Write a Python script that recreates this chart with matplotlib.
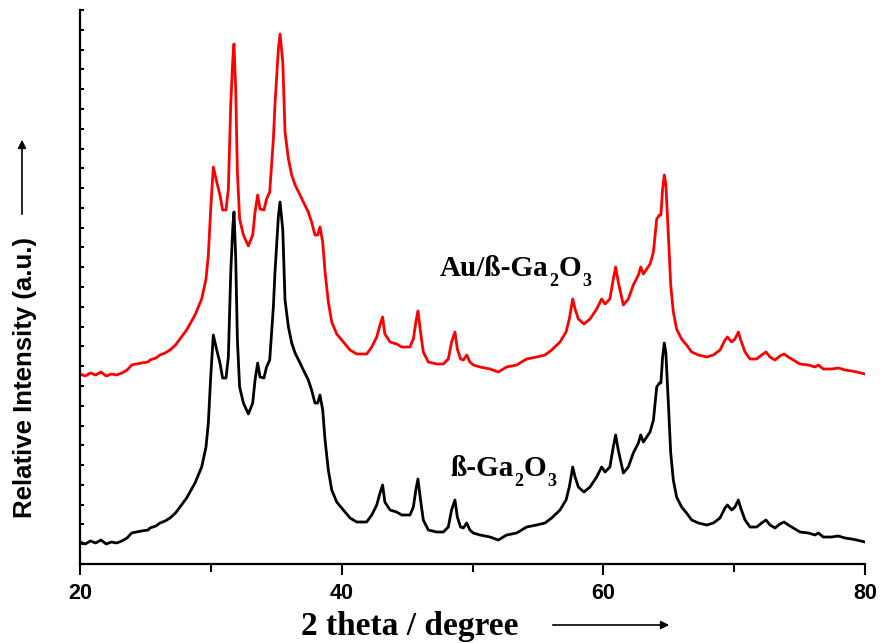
import numpy as np
import matplotlib
matplotlib.use("Agg")
import matplotlib.pyplot as plt
from matplotlib.ticker import MultipleLocator

# 2 theta positions (degree) and intensity of the bare beta-Ga2O3 pattern (a.u.)
two_theta = [
    20.0, 20.4, 20.8, 21.2, 21.6, 22.0, 22.4, 22.8, 23.2, 23.6, 23.95, 24.3,
    24.7, 25.2, 25.35, 25.8, 26.11, 26.5, 26.88, 27.3, 27.64, 28.15, 28.79,
    29.3, 29.63, 29.81, 29.99, 30.19, 30.45, 30.7, 30.9, 31.16, 31.34, 31.52,
    31.68, 31.77, 31.9, 32.03, 32.2, 32.49, 32.87, 33.2, 33.38, 33.58, 33.76,
    34.06, 34.26, 34.5, 34.78, 34.9, 35.16, 35.29, 35.5, 35.67, 35.93, 36.18,
    36.44, 36.82, 37.07, 37.45, 37.7, 37.96, 38.17, 38.34, 38.55, 38.73,
    38.98, 39.24, 39.62, 40.13, 40.64, 41.15, 41.91, 42.3, 42.68, 42.93,
    43.13, 43.3, 43.7, 44.2, 44.59, 45.22, 45.48, 45.67, 45.83, 46.03, 46.24,
    46.62, 47.26, 47.77, 48.15, 48.4, 48.66, 48.84, 49.09, 49.3, 49.56, 49.8,
    50.06, 50.57, 51.34, 51.97, 52.61, 53.37, 54.14, 54.9, 55.54, 56.05,
    56.69, 57.15, 57.4, 57.66, 57.84, 58.09, 58.52, 58.98, 59.49, 59.87,
    60.13, 60.5, 60.76, 60.94, 61.14, 61.53, 61.91, 62.29, 62.68, 62.86,
    63.06, 63.57, 63.83, 64.08, 64.29, 64.4, 64.53, 64.66, 64.78, 64.97,
    65.15, 65.35, 65.6, 65.98, 66.36, 66.75, 67.26, 67.9, 68.41, 68.92, 69.3,
    69.48, 69.81, 70.06, 70.32, 70.5, 70.83, 71.21, 71.72, 72.1, 72.43,
    72.74, 73.12, 73.5, 73.81, 74.14, 74.52, 75.03, 75.67, 76.18, 76.43,
    76.81, 77.45, 77.96, 78.47, 78.98, 79.36, 80.0,
]
intensity = [
    22, 20, 23, 21, 24, 20, 22, 21, 23, 26, 31, 32,
    33, 34, 36, 38, 41, 43, 46, 51, 57, 66, 81,
    97, 117, 141, 187, 229, 214, 201, 186, 186, 207, 291,
    337, 352, 307, 224, 177, 161, 150, 161, 184, 201, 187,
    186, 197, 204, 257, 291, 347, 362, 334, 264, 237, 221,
    211, 201, 194, 184, 174, 161, 161, 169, 154, 124,
    94, 74, 62, 54, 46, 42, 42, 49, 59, 71,
    79, 62, 54, 52, 49, 49, 57, 74, 85, 64, 44,
    34, 32, 32, 37, 54, 64, 47, 37, 36, 41, 34,
    31, 29, 27, 24, 29, 31, 37, 39, 41, 46,
    54, 64, 77, 97, 87, 77, 72, 77, 87, 97,
    92, 97, 117, 129, 114, 91, 97, 111, 121, 129,
    122, 132, 144, 177, 181, 181, 207, 221, 211, 161,
    111, 84, 67, 57, 51, 44, 41, 39, 41, 46, 56,
    59, 54, 57, 64, 56, 44, 37, 37, 41, 44,
    39, 36, 40, 42, 39, 36, 32, 31, 29, 31,
    27, 27, 28, 26, 25, 24, 22,
]

# vertical stacking offsets of the two patterns
offsets = {"ga2o3": 0, "au": 168}
y_max = 554

x = np.array(two_theta)
y = np.array(intensity)

fig = plt.figure(figsize=(8.8, 6.43), dpi=100)
ax = fig.add_axes([80 / 880, 1 - 564 / 643, 785 / 880, 554 / 643])

ax.plot(x, y + offsets["ga2o3"], color="black", lw=2)
ax.plot(x, y + offsets["au"], color="#ff0000", lw=2)

ax.set_xlim(20, 80)
ax.set_ylim(0, y_max)

for s in ["top", "right"]:
    ax.spines[s].set_visible(False)
ax.spines["left"].set_linewidth(1.6)
ax.spines["bottom"].set_linewidth(1.6)

ax.xaxis.set_major_locator(MultipleLocator(20))
ax.xaxis.set_minor_locator(MultipleLocator(10))
ax.tick_params(axis="x", which="major", direction="out", length=8, width=1.5,
               pad=6)
ax.tick_params(axis="x", which="minor", direction="out", length=6, width=1.5)
ax.set_yticks(np.linspace(0, y_max, 29))
ax.tick_params(axis="y", direction="in", length=3, width=1.5, labelleft=False)

for lab in ax.get_xticklabels():
    lab.set_fontfamily("Liberation Sans")
    lab.set_fontweight("bold")
    lab.set_fontsize(15.5)


def formula_label(x0, y0, parts):
    # main text followed by lowered subscript digits, Times bold
    base = ax.text(x0, y0, parts[0][0], fontsize=21,
                   fontfamily="Liberation Serif", fontweight="bold",
                   va="baseline")
    prev = base
    for txt, sub in parts[1:]:
        if sub:
            prev = ax.annotate(txt, xy=(1, 0), xycoords=(prev, base),
                               xytext=(0.5, -5.5), textcoords="offset points",
                               fontsize=13, fontfamily="Liberation Serif",
                               fontweight="bold", va="bottom", ha="left")
        else:
            prev = ax.annotate(txt, xy=(1, 0), xycoords=(prev, base),
                               xytext=(0.5, 0), textcoords="offset points",
                               fontsize=21, fontfamily="Liberation Serif",
                               fontweight="bold", va="bottom", ha="left")


formula_label(47.5, 288, [("Au/ß-Ga", False), ("2", True), ("O", False),
                          ("3", True)])
formula_label(48.3, 88, [("ß-Ga", False), ("2", True), ("O", False),
                         ("3", True)])

# axis titles with arrows
fig.text(410 / 880, 1 - 626 / 643, "2 theta / degree", ha="center",
         va="center", fontsize=24, fontfamily="Liberation Serif",
         fontweight="bold")
fig.add_artist(matplotlib.patches.FancyArrowPatch(
    (550 / 880, 1 - 625 / 643), (672 / 880, 1 - 625 / 643),
    transform=fig.transFigure, arrowstyle="-|>", mutation_scale=12,
    color="black", lw=1.2))

fig.text(25 / 880, 1 - 377 / 643, "Relative Intensity (a.u.)", rotation=90,
         ha="center", va="center", fontsize=18.5, fontfamily="Liberation Sans",
         fontweight="bold")
fig.add_artist(matplotlib.patches.FancyArrowPatch(
    (22 / 880, 1 - 217 / 643), (22 / 880, 1 - 137 / 643),
    transform=fig.transFigure, arrowstyle="-|>", mutation_scale=12,
    color="black", lw=1.2))

fig.savefig("out.png", dpi=100)
